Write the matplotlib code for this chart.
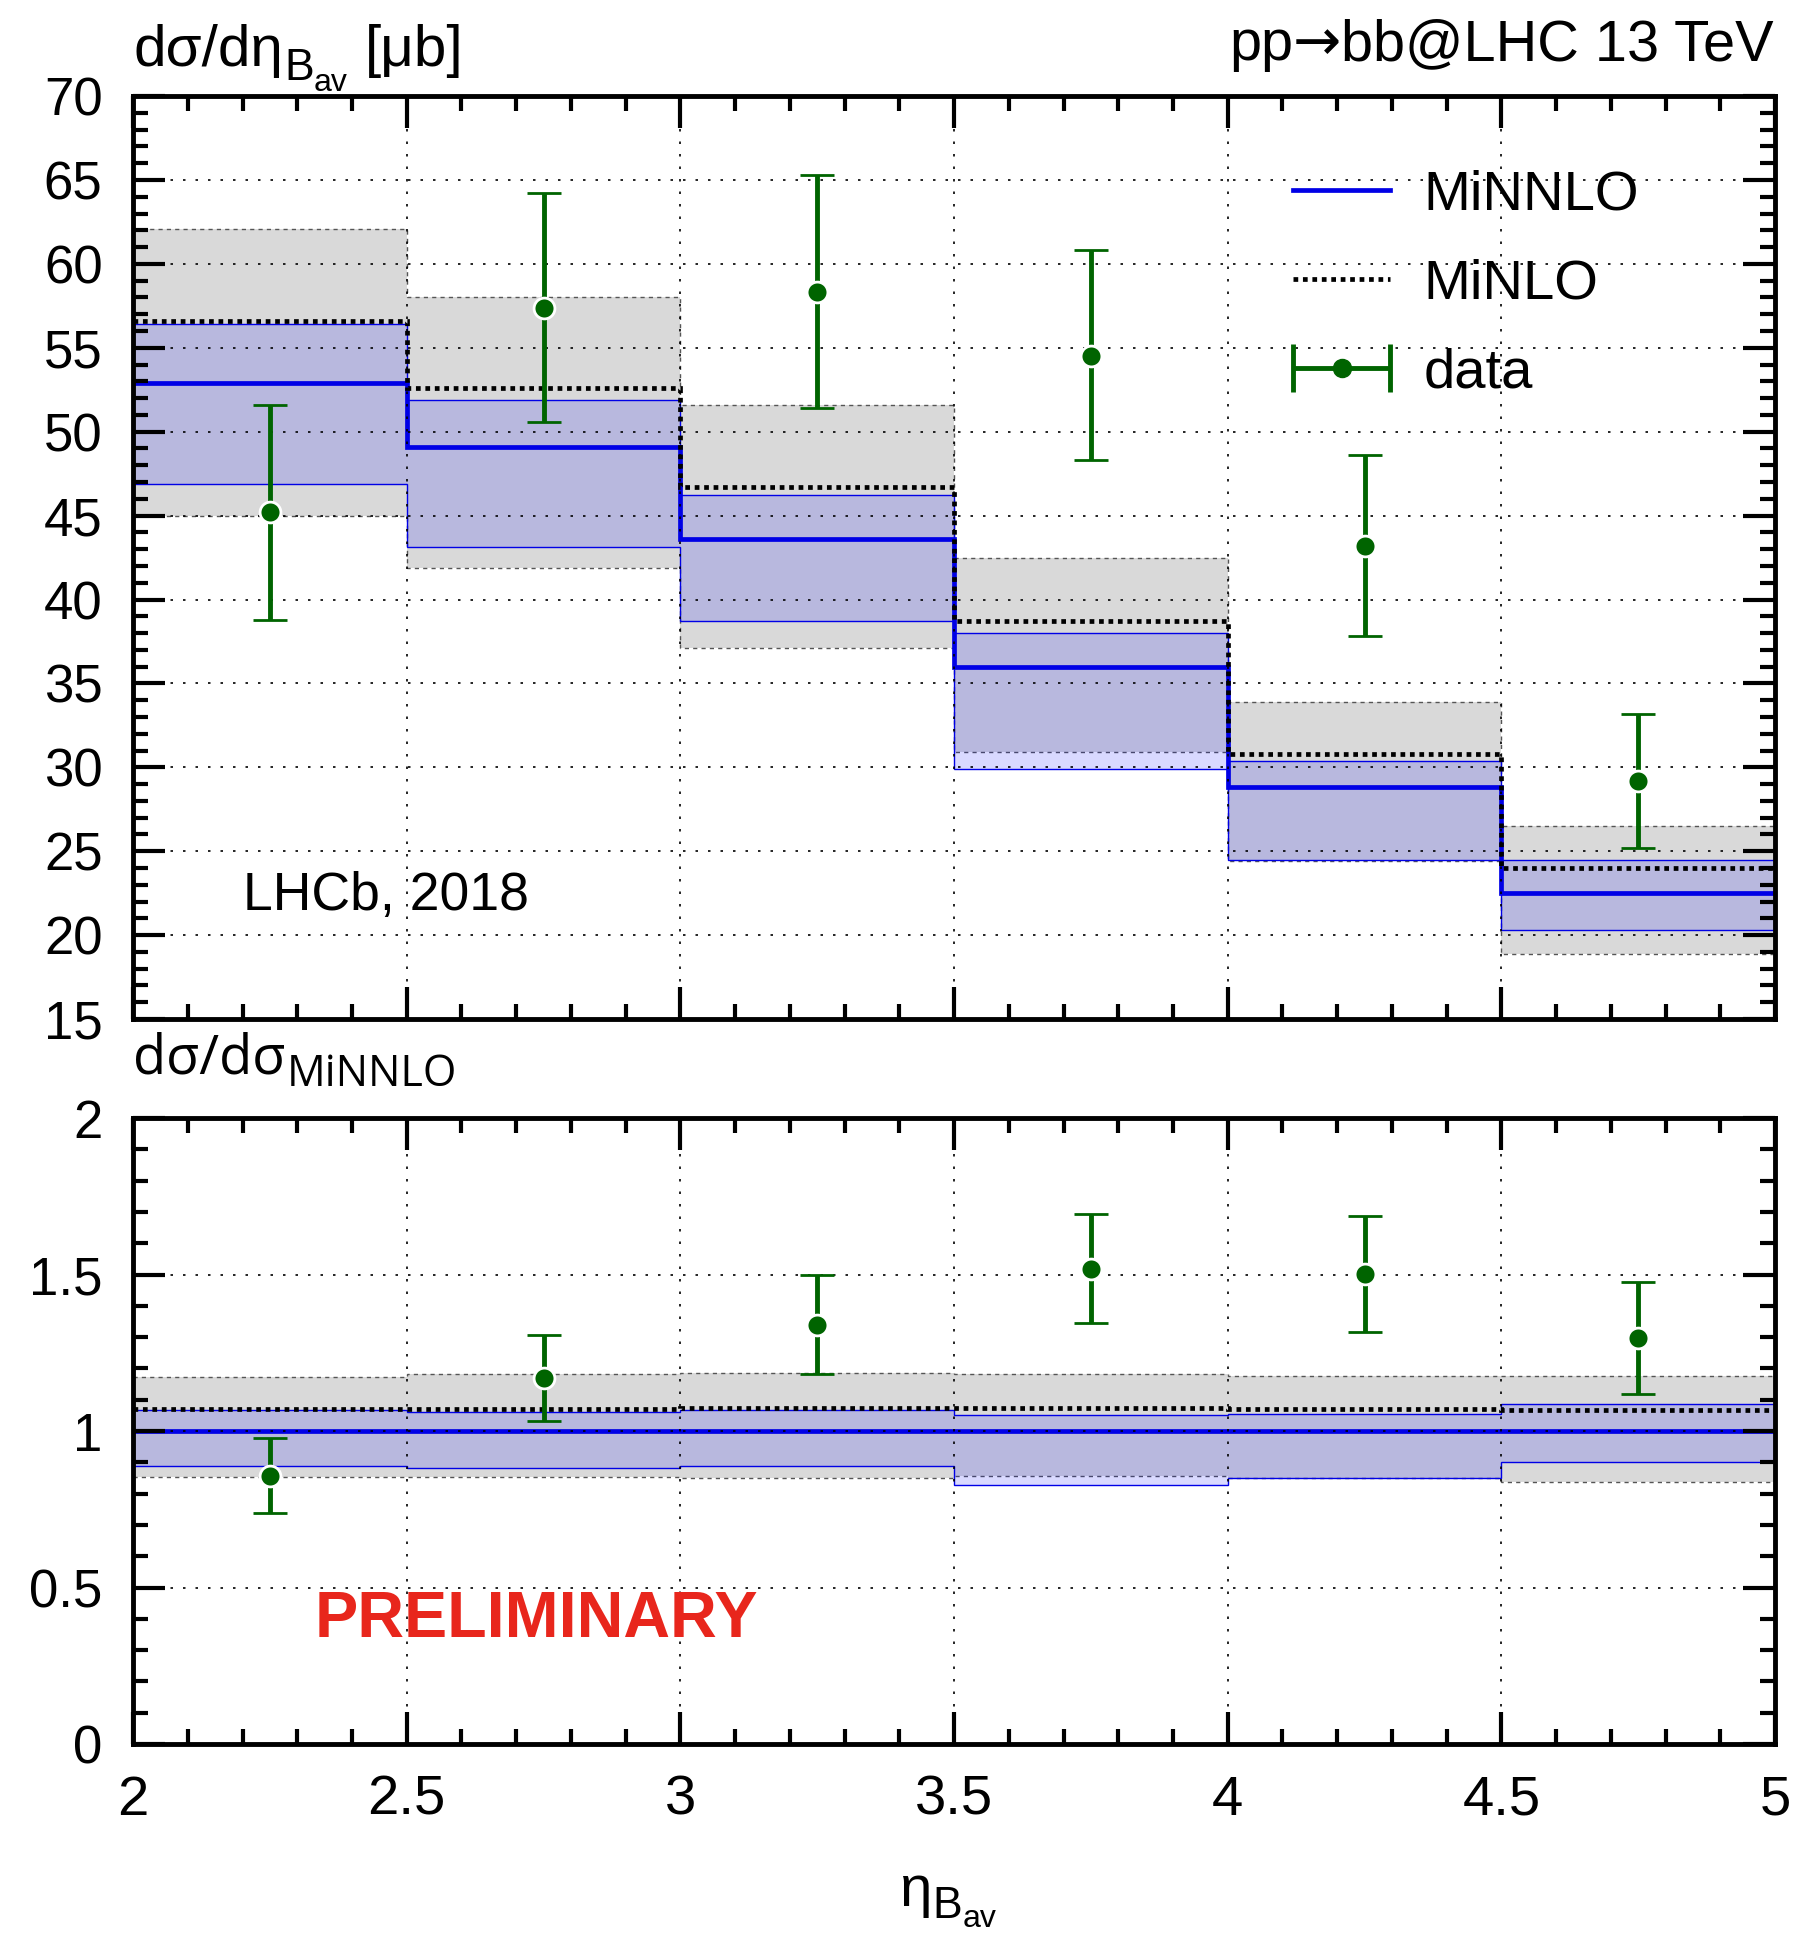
import numpy as np
import matplotlib
matplotlib.use("Agg")
import matplotlib.pyplot as plt
from matplotlib.ticker import MultipleLocator, FuncFormatter
from matplotlib.lines import Line2D
from matplotlib.collections import LineCollection
from matplotlib.container import ErrorbarContainer
from matplotlib.legend_handler import HandlerErrorbar

# bin edges in eta_Bav
edges = [2.0, 2.5, 3.0, 3.5, 4.0, 4.5, 5.0]

# upper panel: dsigma/deta [mub]
minnlo = [52.9, 49.1, 43.6, 36.0, 28.8, 22.5]
minnlo_hi = [56.4, 51.9, 46.2, 38.0, 30.4, 24.5]
minnlo_lo = [46.9, 43.1, 38.7, 29.9, 24.5, 20.3]
minlo = [56.6, 52.6, 46.7, 38.7, 30.8, 24.0]
minlo_hi = [62.1, 58.0, 51.6, 42.5, 33.9, 26.5]
minlo_lo = [45.0, 41.9, 37.1, 30.9, 24.4, 18.9]

data_x = [2.25, 2.75, 3.25, 3.75, 4.25, 4.75]
data = [45.2, 57.4, 58.3, 54.5, 43.2, 29.2]
data_hi = [51.6, 64.2, 65.3, 60.8, 48.6, 33.2]
data_lo = [38.8, 50.6, 51.4, 48.3, 37.8, 25.2]

# lower panel: ratio to MiNNLO
ratio_minnlo = [1.0, 1.0, 1.0, 1.0, 1.0, 1.0]
ratio_minnlo_hi = [1.066, 1.060, 1.067, 1.052, 1.056, 1.086]
ratio_minnlo_lo = [0.888, 0.882, 0.889, 0.828, 0.851, 0.900]
ratio_minlo = [1.069, 1.072, 1.073, 1.074, 1.069, 1.066]
ratio_minlo_hi = [1.173, 1.181, 1.187, 1.181, 1.176, 1.176]
ratio_minlo_lo = [0.853, 0.853, 0.851, 0.857, 0.851, 0.836]
ratio_data = [0.856, 1.169, 1.339, 1.519, 1.503, 1.297]
ratio_data_hi = [0.977, 1.307, 1.500, 1.692, 1.688, 1.475]
ratio_data_lo = [0.737, 1.032, 1.181, 1.345, 1.318, 1.118]

BLUE = "#0000e6"
GREEN = "#006400"
GREY = "#d9d9d9"
SANS = ["Liberation Sans", "DejaVu Sans"]

plt.rcParams["font.family"] = SANS


def step_y(vals):
    v = np.asarray(vals, dtype=float)
    return np.append(v, v[-1])


def draw_panel(ax, central, c_hi, c_lo, nlo, n_hi, n_lo, d, d_hi, d_lo):
    # MiNLO band (grey) with dashed edges
    ax.fill_between(edges, step_y(n_lo), step_y(n_hi), step="post",
                    color=GREY, lw=0, zorder=1)
    ax.stairs(n_hi, edges, baseline=None, color="#555555", ls=(0, (3, 3)), lw=1.0, zorder=1.2)
    ax.stairs(n_lo, edges, baseline=None, color="#555555", ls=(0, (3, 3)), lw=1.0, zorder=1.2)
    # MiNNLO band (transparent blue)
    ax.fill_between(edges, step_y(c_lo), step_y(c_hi), step="post",
                    color="blue", alpha=0.15, lw=0, zorder=1.4)
    ax.stairs(c_hi, edges, baseline=None, color=BLUE, lw=1.0, zorder=1.5)
    ax.stairs(c_lo, edges, baseline=None, color=BLUE, lw=1.0, zorder=1.5)
    # central lines
    ax.stairs(central, edges, baseline=None, color=BLUE, lw=3.4, zorder=2)
    ax.stairs(nlo, edges, baseline=None, color="black", lw=3.4,
              ls=(0, (1, 1)), zorder=2.1)
    # data
    d = np.asarray(d)
    yerr = [d - np.asarray(d_lo), np.asarray(d_hi) - d]
    ax.errorbar(data_x, d, yerr=yerr, fmt="o", color=GREEN, ms=15,
                mec="white", mew=2, elinewidth=3.5, capsize=12, capthick=3.5,
                zorder=5)

    ax.set_xlim(2, 5)
    ax.xaxis.set_major_locator(MultipleLocator(0.5))
    ax.xaxis.set_minor_locator(MultipleLocator(0.1))
    ax.tick_params(which="both", direction="in", top=True, right=True, pad=22)
    ax.tick_params(axis="x", labelsize=40.5)
    ax.tick_params(axis="y", labelsize=38)
    ax.tick_params(which="major", length=23, width=3)
    ax.tick_params(which="minor", length=11, width=3)
    for s in ax.spines.values():
        s.set_linewidth(3.5)
    ax.grid(True, which="major", color="black", ls=(0, (1.5, 6)), lw=1.2)
    ax.set_axisbelow(False)
    fmt = FuncFormatter(lambda v, p: "%g" % round(v, 3))
    ax.xaxis.set_major_formatter(fmt)
    ax.yaxis.set_major_formatter(fmt)


def chain_text(ax, x, y, parts, family=SANS):
    # parts: (text, fontsize, gap in pt, drop below the common baseline in pt)
    s, fs = parts[0][0], parts[0][1]
    prev = fig.text(x, y, s, fontsize=fs, va="baseline", ha="left", family=family)
    for s, fs, dx, drop in parts[1:]:
        prev = ax.annotate(s, xy=(1, y), xycoords=(prev, "figure fraction"),
                           xytext=(dx, -drop), textcoords="offset points",
                           fontsize=fs, va="baseline", ha="left",
                           family=family, annotation_clip=False)
    return prev


fig = plt.figure(figsize=(18.03, 19.37), dpi=100)
ax1 = fig.add_axes([0.0738, 0.4739, 0.9107, 0.4765])
ax2 = fig.add_axes([0.0738, 0.0996, 0.9107, 0.3232])

draw_panel(ax1, minnlo, minnlo_hi, minnlo_lo, minlo, minlo_hi, minlo_lo,
           data, data_hi, data_lo)
ax1.set_ylim(15, 70)
ax1.yaxis.set_major_locator(MultipleLocator(5))
ax1.yaxis.set_minor_locator(MultipleLocator(1))
ax1.tick_params(labelbottom=False)

draw_panel(ax2, ratio_minnlo, ratio_minnlo_hi, ratio_minnlo_lo, ratio_minlo,
           ratio_minlo_hi, ratio_minlo_lo, ratio_data, ratio_data_hi, ratio_data_lo)
ax2.set_ylim(0, 2)
ax2.yaxis.set_major_locator(MultipleLocator(0.5))
ax2.yaxis.set_minor_locator(MultipleLocator(0.1))

# legend
h_minnlo = Line2D([], [], color=BLUE, lw=3.4)
h_minlo = Line2D([], [], color="black", lw=3.4, ls=(0, (1, 1)))
dl = Line2D([], [], marker="o", ls="none", color=GREEN, ms=13)
cap = Line2D([], [], marker="|", ls="none", color=GREEN, ms=34, mew=3.5)
bar = LineCollection([], colors=GREEN, linewidths=3.5)
h_data = ErrorbarContainer((dl, (cap, cap), (bar,)), has_xerr=True, has_yerr=False)
ax1.legend([h_minnlo, h_minlo, h_data], ["MiNNLO", "MiNLO", "data"],
           loc="upper left", bbox_to_anchor=(0.7065, 0.9205), frameon=False,
           fontsize=40.5, handlelength=1.72, handletextpad=0.6, labelspacing=0.66,
           borderpad=0, borderaxespad=0,
           handler_map={ErrorbarContainer: HandlerErrorbar(xerr_size=0.86)})

ax1.text(2.2, 21.5, "LHCb, 2018", fontsize=38.5, va="baseline")
ax2.text(2.332, 0.343, "PRELIMINARY", fontsize=46.5, fontweight="bold",
         color="#e8261c", va="baseline")

# axis titles with hand-built subscripts
chain_text(ax1, 0.0738, 1 - 66 / 1937,
           [("dσ/dη", 42), ("B", 32, 1, 10), ("av", 23, 0, 18), ("[μb]", 42, 12, 0)])
chain_text(ax2, 0.0738, 1 - 1074 / 1937,
           [("dσ/dσ", 39), ("MiNNLO", 31, 1, 9)], family=["Open Sans", "DejaVu Sans"])
chain_text(ax2, 0.4986, 1 - 1906 / 1937,
           [("η", 42), ("B", 32, 1, 9), ("av", 23, 0, 15)])
# title with a wide arrow
t = chain_text(ax1, 0.6816, 1 - 60 / 1937, [("pp", 41.5)])
ta = ax1.annotate("→", xy=(1, 1 - 60 / 1937), xycoords=(t, "figure fraction"),
                  xytext=(0, 0), textcoords="offset points", fontsize=41.5,
                  va="baseline", ha="left", family="DejaVu Sans",
                  annotation_clip=False)
ax1.annotate("bb@LHC 13 TeV", xy=(1, 1 - 60 / 1937), xycoords=(ta, "figure fraction"),
             xytext=(0, 0), textcoords="offset points", fontsize=41.5,
             va="baseline", ha="left", annotation_clip=False)

fig.savefig("out.png", dpi=100)
